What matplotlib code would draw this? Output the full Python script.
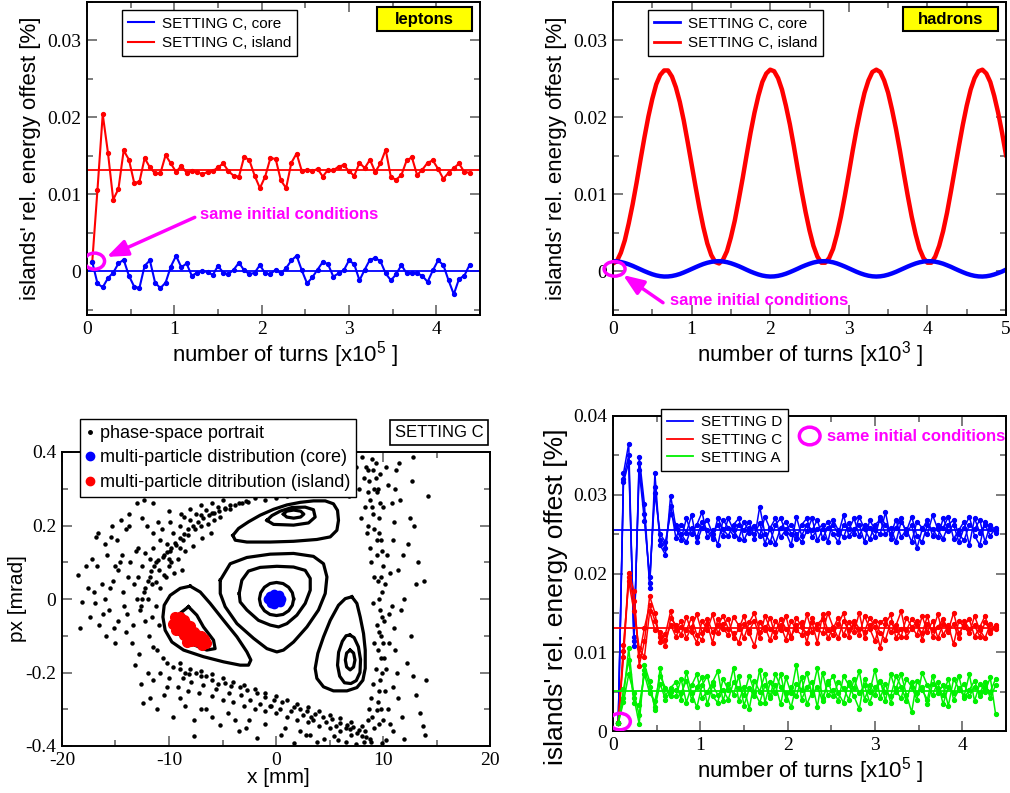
import numpy as np
import matplotlib.pyplot as plt
from matplotlib.ticker import MultipleLocator, FuncFormatter
from matplotlib.lines import Line2D
from matplotlib.patches import Rectangle, Ellipse

plt.rcParams['font.family'] = 'Liberation Sans'
plt.rcParams['mathtext.fontset'] = 'custom'
plt.rcParams['mathtext.rm'] = 'Liberation Sans'

BLUE = '#0000ff'
RED = '#ff0000'
GREEN = '#00f000'
MAGENTA = '#ff00ff'

# ---------------- leptons (top left), turns in units of 1e5, one sample every 6000 turns
lep_island = [0.0012, 0.0106, 0.0204, 0.0154, 0.0093, 0.0107, 0.0157, 0.0145, 0.0115, 0.0116,
              0.0147, 0.0135, 0.0127, 0.0127, 0.0151, 0.0140, 0.0129, 0.0137, 0.0128, 0.0130,
              0.0129, 0.0126, 0.0129, 0.0130, 0.0135, 0.0140, 0.0130, 0.0124, 0.0123, 0.0149,
              0.0144, 0.0124, 0.0108, 0.0123, 0.0147, 0.0146, 0.0118, 0.0108, 0.0141, 0.0153,
              0.0130, 0.0132, 0.0130, 0.0133, 0.0123, 0.0132, 0.0131, 0.0136, 0.0138, 0.0130,
              0.0124, 0.0141, 0.0134, 0.0145, 0.0129, 0.0140, 0.0158, 0.0122, 0.0119, 0.0125,
              0.0144, 0.0148, 0.0125, 0.0132, 0.0141, 0.0144, 0.0133, 0.0120, 0.0128, 0.0134,
              0.0140, 0.0129, 0.0128]
lep_core = [0.0012, -0.0016, -0.0021, -0.0009, -0.0002, 0.0010, 0.0015, -0.0006, -0.0020, -0.0022,
            0.0007, 0.0014, -0.0015, -0.0022, -0.0015, 0.0006, 0.0020, 0.0005, 0.0010, -0.0006,
            -0.0002, 0.0000, -0.0001, -0.0005, 0.0007, -0.0002, -0.0004, 0.0002, 0.0011, 0.0001,
            -0.0004, -0.0002, 0.0008, -0.0003, -0.0004, 0.0002, -0.0003, 0.0004, 0.0014, 0.0020,
            0.0001, -0.0016, -0.0008, 0.0002, 0.0012, 0.0009, -0.0007, -0.0003, 0.0001, 0.0014,
            0.0009, -0.0012, 0.0002, 0.0015, 0.0017, 0.0013, -0.0003, -0.0012, -0.0004, 0.0008,
            -0.0003, -0.0002, -0.0003, -0.0006, -0.0014, 0.0001, 0.0014, 0.0008, -0.0012, -0.0030,
            -0.0010, -0.0006, 0.0008]
lep_island_mean = 0.0131
lep_core_mean = 0.0

# ---------------- hadrons (top right), turns in units of 1e3, one sample every 50 turns
had_island = [0.0010, 0.0013, 0.0024, 0.0040, 0.0062, 0.0087, 0.0115, 0.0145, 0.0174, 0.0201,
              0.0224, 0.0243, 0.0255, 0.0261, 0.0261, 0.0253, 0.0239, 0.0220, 0.0196, 0.0168,
              0.0139, 0.0110, 0.0082, 0.0057, 0.0036, 0.0021, 0.0012, 0.0010, 0.0015, 0.0026,
              0.0044, 0.0066, 0.0093, 0.0121, 0.0151, 0.0180, 0.0206, 0.0228, 0.0246, 0.0257,
              0.0262, 0.0260, 0.0251, 0.0236, 0.0215, 0.0191, 0.0163, 0.0133, 0.0104, 0.0077,
              0.0053, 0.0033, 0.0019, 0.0011, 0.0011, 0.0017, 0.0029, 0.0048, 0.0071, 0.0098,
              0.0127, 0.0157, 0.0185, 0.0210, 0.0232, 0.0248, 0.0259, 0.0262, 0.0259, 0.0248,
              0.0232, 0.0210, 0.0185, 0.0157, 0.0127, 0.0098, 0.0071, 0.0048, 0.0029, 0.0017,
              0.0011, 0.0011, 0.0019, 0.0033, 0.0052, 0.0076, 0.0104, 0.0133, 0.0162, 0.0190,
              0.0215, 0.0236, 0.0251, 0.0260, 0.0262, 0.0257, 0.0246, 0.0228, 0.0206, 0.0180,
              0.0151]
had_core = [0.00130, 0.00127, 0.00119, 0.00106, 0.00089, 0.00069, 0.00046, 0.00023, 0.00000, -0.00021,
            -0.00040, -0.00055, -0.00065, -0.00070, -0.00069, -0.00063, -0.00052, -0.00037, -0.00017, 0.00005,
            0.00028, 0.00051, 0.00073, 0.00093, 0.00109, 0.00121, 0.00128, 0.00130, 0.00126, 0.00117,
            0.00103, 0.00085, 0.00065, 0.00042, 0.00018, -0.00005, -0.00025, -0.00043, -0.00057, -0.00066,
            -0.00070, -0.00068, -0.00061, -0.00049, -0.00033, -0.00013, 0.00009, 0.00032, 0.00056, 0.00077,
            0.00096, 0.00112, 0.00123, 0.00129, 0.00130, 0.00125, 0.00115, 0.00100, 0.00081, 0.00060,
            0.00037, 0.00014, -0.00009, -0.00029, -0.00046, -0.00059, -0.00067, -0.00070, -0.00067, -0.00059,
            -0.00046, -0.00029, -0.00009, 0.00014, 0.00037, 0.00060, 0.00081, 0.00100, 0.00115, 0.00125,
            0.00130, 0.00129, 0.00123, 0.00112, 0.00097, 0.00077, 0.00056, 0.00032, 0.00009, -0.00013,
            -0.00033, -0.00049, -0.00061, -0.00068, -0.00070, -0.00066, -0.00057, -0.00043, -0.00025, -0.00005,
            0.00020]

# ---------------- settings comparison (bottom right), values in units of 1e-4 %
set_D = [
    [10, 327, 365, 108, 348, 288, 182, 327, 236, 224, 299,
     258, 243, 270, 250, 262, 278, 246, 255, 236, 268, 258, 248, 262, 255, 266, 244, 285, 250, 240, 262,
     270, 252, 236, 272, 248, 262, 255, 268, 245, 258, 262, 250, 274, 248, 256, 262, 240, 268, 255, 250,
     278, 244, 258, 270, 250, 262, 232, 256, 268, 248, 262, 258, 272, 244, 255, 266, 236, 270, 252, 262,
     248, 258],
    [10, 320, 350, 114, 340, 275, 188, 310, 242, 233, 286,
     245, 262, 252, 274, 240, 258, 268, 250, 262, 248, 270, 255, 244, 266, 252, 260, 248, 272, 256, 238,
     258, 266, 250, 244, 262, 270, 246, 256, 262, 240, 268, 255, 246, 264, 250, 272, 256, 244, 262, 268,
     250, 258, 240, 266, 254, 272, 248, 240, 262, 256, 246, 270, 254, 262, 240, 258, 272, 248, 236, 266,
     256, 252],
    [10, 316, 341, 120, 331, 267, 195, 302, 250, 240, 276,
     262, 250, 240, 258, 246, 266, 255, 244, 270, 256, 248, 262, 270, 242, 258, 250, 264, 238, 258, 270,
     246, 256, 262, 250, 240, 254, 270, 242, 256, 266, 250, 240, 262, 256, 270, 248, 262, 258, 246, 272,
     262, 250, 268, 246, 256, 240, 266, 258, 250, 274, 256, 244, 262, 268, 250, 242, 262, 256, 268, 240,
     262, 255],
]
set_C = [
    [10, 101, 201, 178, 83, 114, 171, 150, 113, 123, 152,
     128, 140, 118, 132, 148, 125, 136, 112, 142, 130, 122, 145, 134, 118, 138, 150, 126, 132, 115, 140,
     128, 146, 120, 134, 138, 112, 144, 130, 124, 150, 132, 118, 140, 128, 136, 122, 146, 130, 114, 138,
     142, 126, 134, 152, 120, 130, 140, 116, 136, 128, 148, 122, 134, 110, 140, 132, 124, 146, 128, 118,
     136, 130],
    [10, 94, 195, 165, 95, 131, 160, 140, 120, 108, 143,
     135, 122, 145, 126, 112, 140, 128, 148, 124, 136, 142, 118, 130, 146, 124, 108, 138, 128, 144, 120,
     134, 116, 140, 128, 122, 148, 126, 136, 142, 118, 130, 144, 122, 138, 126, 150, 118, 134, 140, 124,
     116, 138, 128, 120, 144, 132, 122, 146, 126, 140, 118, 136, 128, 150, 124, 134, 142, 120, 132, 146,
     124, 132],
    [10, 109, 190, 152, 105, 94, 152, 128, 126, 115, 135,
     120, 132, 128, 144, 122, 116, 142, 126, 134, 146, 130, 124, 112, 136, 128, 140, 118, 146, 130, 126,
     142, 130, 118, 144, 132, 124, 138, 112, 148, 128, 122, 136, 150, 120, 140, 130, 126, 144, 132, 106,
     136, 148, 118, 130, 128, 142, 134, 124, 146, 120, 132, 142, 126, 136, 118, 140, 130, 134, 120, 138,
     128, 134],
]
set_A = [
    [10, 42, 105, 42, 9, 84, 63, 27, 80, 45, 55,
     62, 40, 75, 48, 30, 58, 70, 44, 36, 66, 52, 80, 38, 56, 28, 64, 50, 72, 42, 58,
     34, 68, 48, 84, 40, 56, 62, 30, 74, 46, 52, 38, 70, 58, 44, 28, 66, 50, 78, 42,
     60, 36, 54, 72, 46, 24, 64, 52, 40, 70, 48, 58, 32, 66, 54, 44, 72, 38, 60, 50,
     68, 22],
    [10, 53, 90, 36, 33, 72, 48, 38, 70, 55, 44,
     44, 66, 36, 58, 72, 42, 50, 62, 76, 38, 60, 46, 70, 32, 54, 44, 78, 36, 62, 48,
     72, 40, 56, 44, 68, 34, 50, 80, 42, 60, 70, 48, 36, 62, 54, 76, 40, 58, 46, 64,
     38, 72, 50, 42, 66, 56, 40, 74, 58, 46, 62, 34, 56, 48, 70, 42, 52, 64, 44, 56,
     50, 66],
    [10, 37, 72, 48, 20, 78, 56, 30, 60, 40, 50,
     52, 48, 64, 40, 56, 68, 34, 58, 46, 52, 40, 62, 54, 46, 70, 50, 36, 58, 44, 72,
     56, 48, 30, 60, 52, 74, 46, 56, 38, 64, 44, 62, 54, 40, 66, 48, 58, 36, 56, 62,
     50, 44, 70, 56, 38, 62, 48, 56, 34, 60, 54, 46, 66, 40, 52, 60, 44, 56, 48, 62,
     42, 58],
]
set_means = {'D': 0.0255, 'C': 0.0131, 'A': 0.0051}

# ---------------- phase space (bottom left), x [mm], px [mrad]
core_ring1_x = [1.65, 1.53, 1.18, 0.66, 0.05, -0.56, -1.08, -1.43, -1.55, -1.43, -1.08, -0.56, 0.05, 0.66, 1.18, 1.53]
core_ring1_y = [0.0, 0.017, 0.032, 0.042, 0.045, 0.042, 0.032, 0.017, 0.0, -0.017, -0.032, -0.042, -0.045, -0.042, -0.032, -0.017]
core_ring2_x = [-3.44, -3.19, -2.57, -1.48, 0.08, 1.64, 2.73, 3.2, 3.2, 2.73, 1.95, 1.02, 0.24, -0.54, -1.64, -2.72, -3.35]
core_ring2_y = [0.015, 0.051, 0.076, 0.086, 0.089, 0.087, 0.078, 0.056, 0.024, -0.012, -0.044, -0.067, -0.076, -0.071, -0.058, -0.03, -0.008]
core_ring3_x = [-5.21, -4.28, -2.72, -0.54, 1.64, 3.5, 4.44, 4.76, 4.6, 3.97, 2.89, 1.64, 0.7, 0.08, -0.85, -2.1, -3.65, -4.75, -5.21]
core_ring3_y = [0.051, 0.096, 0.113, 0.122, 0.124, 0.116, 0.096, 0.06, 0.015, -0.03, -0.076, -0.117, -0.139, -0.144, -0.135, -0.107, -0.067, -0.021, 0.015]
top_out_x = [-4.03, -3.81, -2.72, -0.54, 1.64, 3.82, 5.07, 5.69, 5.84, 5.75, 5.37, 4.6, 3.5, 2.26, 1.02, -0.23, -1.48, -2.57, -3.5]
top_out_y = [0.173, 0.16, 0.155, 0.155, 0.157, 0.162, 0.169, 0.187, 0.214, 0.241, 0.259, 0.267, 0.267, 0.263, 0.256, 0.244, 0.228, 0.21, 0.192]
top_mid_x = [-0.85, -0.23, 1.64, 3.04, 3.66, 3.5, 2.73, 1.49, 0.39, -0.38]
top_mid_y = [0.214, 0.203, 0.201, 0.207, 0.223, 0.243, 0.25, 0.249, 0.239, 0.227]
top_in_x = [0.7, 1.0, 1.65, 2.3, 2.6, 2.3, 1.65, 1.0]
top_in_y = [0.231, 0.239, 0.242, 0.239, 0.231, 0.223, 0.220, 0.223]
left_out_x = [-8.02, -8.95, -9.89, -10.45, -10.57, -10.36, -9.73, -8.64, -6.78, -4.9, -3.35, -2.57, -2.35, -2.72, -3.65, -4.9, -6.15, -7.08]
left_out_y = [0.035, 0.029, 0.01, -0.017, -0.049, -0.085, -0.117, -0.139, -0.157, -0.171, -0.18, -0.18, -0.166, -0.144, -0.103, -0.058, -0.012, 0.019]
left_in_x = [-8.18, -9.58, -9.42, -8.33, -6.47, -5.69, -5.84, -6.78, -7.4]
left_in_y = [-0.021, -0.053, -0.085, -0.117, -0.139, -0.135, -0.112, -0.076, -0.044]
right_out_x = [7.09, 6.47, 5.84, 5.07, 4.44, 3.91, 3.66, 3.82, 4.44, 5.37, 6.63, 7.56, 8.12, 8.34, 8.34, 8.18, 7.87, 7.56]
right_out_y = [0.006, 0.001, -0.017, -0.058, -0.103, -0.148, -0.189, -0.216, -0.239, -0.25, -0.25, -0.241, -0.221, -0.189, -0.139, -0.094, -0.049, -0.012]
right_mid_x = [6.9, 7.3, 7.7, 7.9, 7.85, 7.5, 7.0, 6.4, 5.95, 5.75, 5.85, 6.2, 6.55]
right_mid_y = [-0.098, -0.105, -0.13, -0.165, -0.2, -0.222, -0.23, -0.228, -0.21, -0.18, -0.145, -0.115, -0.1]
right_in_x = [6.93, 7.25, 7.38, 7.25, 6.93, 6.6, 6.48, 6.6]
right_in_y = [-0.139, -0.147, -0.166, -0.185, -0.193, -0.185, -0.166, -0.147]

chaos_x = [-13.0, -12.3, -11.5, -14.5, -15.3, -15.4, -16.8, -14.0, -12.9, -12.2, -11.5, -10.8, -10.2, -9.6,
           -9.0, -8.6, -8.0, -7.5, -7.0, -6.5, -6.0, -5.4, -4.8, -4.3, -3.8, -3.2, -2.6, -11.8, -11.2, -10.5,
           -9.9, -9.3, -8.7, -8.2, -7.6, -7.0, -6.4, -5.8, -5.2, -12.5, -12.9, -13.3, -13.0, -12.6, -12.2,
           -11.8, -13.6, -14.4, -15.0, -10.0, -9.2, -8.5, -7.8, -6.9, -6.1,
           -18.5, -18.1, -18.3, -17.0, -16.9, -16.3, -16.0, -15.6, -15.2, -14.8, -14.3, -13.9, -16.5, -15.9,
           -14.8, -17.2, -15.0, -14.0, -13.5, -12.8,
           -12.2, -11.9, -11.5, -11.1, -10.6, -10.2, -9.6, -9.0, -8.5, -8.1, -7.5, -7.0, -6.5, -6.0, -5.4,
           -4.8, -4.2, -3.4, -2.7, -1.8, -1.0, -0.23, 0.6, 1.64, 2.2, 2.9, 3.6, 4.4, 5.2, 6.0, 6.6, 7.2, 7.8, 8.3,
           -10.8, -10.0, -9.2, -8.2, -7.2, -6.0, -5.0, -4.0, -3.0, -2.0, -1.0, 0.0, 1.0, 2.0, 3.0, 4.0, 5.0,
           6.0, 7.0, 8.0, 8.8,
           -12.4, -11.1, -9.6, -7.7, -5.2, -7.7, -1.8, 1.64, 3.8, 5.4, -3.5, 0.5, 2.8, 6.5, -10.5, -6.5, -2.5, 4.5,
           -11.2, -10.9, -10.8, -10.3, -9.5, -8.8,
           8.0, 8.4, 9.1, 8.7, 9.4, 9.0, 9.6, 9.2, 9.8, 9.4, 10.0, 9.5, 9.9, 9.7, 10.1, 9.6, 10.0, 9.8, 10.3,
           9.7, 10.2, 9.5, 9.4, 10.0, 9.2, 10.3, 9.9, 8.9, 8.8, 9.3, 8.9, 9.1, 9.3, 8.9, 10.5, 10.4, 10.6, 10.5,
           11.0, 12.3, 12.7, 14.2, 12.8, 13.1, 11.7, 10.6, 12.2, 12.8, 13.1, 13.5, 13.7, 11.2, 11.6, 11.4,
           12.0, 11.3, 11.8, 10.9, 12.5, 11.9, 11.0, 12.6, 13.3, 11.5,
           5.4, 6.3, 7.0, 7.5, 6.8, 7.8, 4.5, 3.5, 2.3, 1.0, 0.0, -1.0,
           -12.7, -12.5, -12.3, -12.0, -11.7, -11.4, -11.0, -10.6, -10.2, -9.8, -9.4, -9.0, -8.6, -8.2, -7.8,
           -7.3, -6.8, -6.3, -5.8, -5.3, -4.8, -4.3, -3.5, -2.8, -2.0, -12.0, -11.6, -10.9, -10.0, -9.0,
           9.3, 9.5, 9.7, 9.6, 9.9, 9.8, 9.6, 9.9, 9.8, 9.5, 9.9, 9.6, 9.8, 9.6, 9.1, 9.2, 9.4, 9.1, 9.7,
           10.0, 10.2, 10.1,
           -9.0, -8.0, -7.0, -6.0, -5.0, -4.0, -3.0, -2.0, -1.0, 0.0, 1.0, 2.0, 3.0, 4.0, 5.0, 6.0, 7.0, 8.0,
           8.6, -0.5, 3.5, 6.5,
           8.2, 8.6, 8.3, 7.9, 8.5, 8.8, 8.6,
           -17.6, -17.4, -16.7, -16.2, -15.8, -15.5, -15.1, -14.6, -14.2, -13.8, -13.4, -13.1, -16.0, -17.8,
           -16.6, -14.9, -13.7, -12.1, -11.0, -10.0, -11.5,
           -12.0, -11.5, -10.2, -9.0, -8.5, -7.0, -6.0, -4.5, -3.8, -2.8, -1.0, 0.8, 2.2, 3.2, 5.8, 7.5, 8.2,
           -12.6, -13.2, -11.8,
           -8.7, -7.9, -6.8, -5.6, -4.4, -3.3, -2.4, -1.5, -0.6, 0.4, 1.4, 2.5, 3.3, 4.7, 5.6, 6.9, 7.6, 8.4,
           9.0, 8.6, 10.8, 10.9, 10.7, 10.8, 11.1, 10.9, 10.7, 9.2, 9.0, 8.7, 9.4, 9.2, 10.3, 11.4, 12.0, 13.9,
           12.9, 13.8, 14.0, 11.1,
           -10.7, -9.9, -8.9, -8.0, -7.0, -6.0, -13.7, -12.5, -5.0, -9.8, -10.5, -11.2, -11.6]
chaos_y = [0.26, 0.27, 0.262, 0.215, 0.2, 0.17, 0.17, 0.19, 0.14, 0.125, 0.14, 0.16, 0.15, 0.18,
           0.2, 0.222, 0.215, 0.23, 0.228, 0.241, 0.235, 0.25, 0.245, 0.246, 0.255, 0.26, 0.265, 0.11, 0.1, 0.12,
           0.13, 0.148, 0.16, 0.175, 0.19, 0.2, 0.205, 0.215, 0.222, 0.09, 0.06, 0.04, 0.0, -0.02, 0.03,
           0.06, 0.1, 0.12, 0.09, 0.09, 0.11, 0.13, 0.145, 0.165, 0.18,
           0.065, -0.008, -0.08, 0.02, -0.01, 0.04, 0.0, -0.03, 0.05, -0.06, 0.02, -0.04, -0.07, -0.1,
           0.08, 0.11, -0.12, -0.09, -0.12, -0.15,
           -0.06, -0.1, -0.13, -0.139, -0.16, -0.175, -0.185, -0.19, -0.2, -0.203, -0.2, -0.21, -0.21, -0.22, -0.23,
           -0.228, -0.236, -0.24, -0.247, -0.257, -0.266, -0.275, -0.28, -0.293, -0.298, -0.306, -0.312, -0.32,
           -0.327, -0.338, -0.343, -0.348, -0.357, -0.36,
           -0.2, -0.215, -0.24, -0.25, -0.255, -0.265, -0.275, -0.28, -0.29, -0.3, -0.306, -0.31, -0.322, -0.33,
           -0.335, -0.345, -0.35, -0.36, -0.37, -0.372, -0.38,
           -0.283, -0.3, -0.32, -0.33, -0.342, -0.374, -0.379, -0.393, -0.388, -0.374, -0.36, -0.37, -0.37, -0.39,
           -0.26, -0.3, -0.33, -0.38,
           -0.02, -0.07, 0.03, 0.06, 0.07, 0.08,
           0.386, 0.36, 0.35, 0.32, 0.29, 0.25, 0.22, 0.19, 0.16, 0.12, 0.09, 0.05, 0.02, -0.03, -0.06, -0.09,
           -0.12, -0.16, -0.19, -0.22, -0.25, -0.28, -0.302, -0.33, -0.35, -0.384, -0.393, -0.39, 0.27, 0.33,
           0.1, -0.01, -0.19, -0.27, 0.31, 0.12, -0.04, -0.3,
           0.21, 0.15, 0.32, 0.28, 0.386, 0.04, -0.03, -0.12, -0.175, -0.21, -0.26, -0.31, -0.345, 0.35, 0.27,
           0.08, 0.0, -0.2, -0.32, -0.36, 0.22, 0.12, -0.08, -0.1, 0.1, 0.37,
           0.33, 0.35, 0.31, 0.36, 0.28, 0.3, 0.3, 0.295, 0.285, 0.28, 0.275, 0.27,
           -0.03, 0.0, 0.02, 0.05, 0.075, 0.09, 0.105, 0.115, 0.128, 0.14, 0.152, 0.165, 0.178, 0.19, 0.2,
           0.21, 0.22, 0.228, 0.235, 0.24, 0.248, 0.256, 0.262, 0.268, 0.274, 0.0, 0.04, 0.08, 0.11, 0.14,
           0.37, 0.3, 0.26, 0.18, 0.13, 0.06, 0.0, -0.05, -0.1, -0.14, -0.2, -0.25, -0.3, -0.34, 0.23, 0.06,
           -0.07, -0.23, 0.34, 0.25, 0.04, -0.16,
           -0.175, -0.19, -0.195, -0.205, -0.215, -0.225, -0.235, -0.245, -0.255, -0.265, -0.275, -0.285,
           -0.295, -0.305, -0.315, -0.325, -0.335, -0.345, -0.33, -0.29, -0.33, -0.35,
           0.33, 0.29, 0.25, 0.22, 0.18, 0.14, 0.2,
           0.03, -0.05, 0.09, -0.04, 0.12, 0.03, -0.08, 0.1, -0.02, 0.06, -0.07, 0.13, 0.15, 0.09,
           0.18, 0.16, 0.2, 0.2, 0.21, 0.24, 0.18,
           -0.2, -0.22, -0.24, -0.27, -0.29, -0.3, -0.32, -0.31, -0.33, -0.35, -0.34, -0.35, -0.36, -0.37,
           -0.385, -0.395, -0.39, -0.23, -0.18, -0.27,
           -0.215, -0.225, -0.235, -0.245, -0.255, -0.262, -0.275, -0.285, -0.29, -0.3, -0.305, -0.315, -0.32,
           -0.335, -0.345, -0.355, -0.365, -0.375,
           0.38, 0.35, 0.26, 0.16, 0.07, -0.02, -0.14, -0.24, -0.34, -0.12, -0.32, -0.3, 0.16, 0.3, 0.36, -0.27,
           -0.38, -0.37, 0.2, 0.05, -0.22, 0.3,
           0.19, 0.21, 0.23, 0.245, 0.255, 0.262, 0.23, 0.22, 0.27, 0.1, 0.065, 0.045, -0.05]

core_beam_x = [-0.15, -0.55, 0.3, -0.5, 0.35, -0.15, -0.15, -0.75, 0.5, -0.4, 0.2]
core_beam_y = [0.0, 0.009, 0.01, -0.01, -0.009, 0.013, -0.013, 0.0, 0.0, 0.0, 0.0]
island_beam_x = [-9.4, -9.0, -8.6, -9.6, -9.2, -8.8, -8.4, -8.0, -9.3, -8.9, -8.5, -8.1, -7.7, -8.6,
                 -8.2, -7.8, -7.4, -7.0, -7.9, -7.5, -7.1, -6.7, -6.5, -8.3, -6.9]
island_beam_y = [-0.048, -0.05, -0.056, -0.068, -0.066, -0.064, -0.068, -0.074, -0.084, -0.082, -0.08,
                 -0.084, -0.09, -0.098, -0.1, -0.1, -0.098, -0.1, -0.114, -0.114, -0.116, -0.108, -0.12,
                 -0.118, -0.126]

SETTING_LABELS = ['SETTING D', 'SETTING C', 'SETTING A']


def fmt(v, pos):
    return '%g' % (round(v, 6) + 0.0)


def style(ax, xmaj, ymaj):
    ax.xaxis.set_major_locator(MultipleLocator(xmaj))
    ax.xaxis.set_minor_locator(MultipleLocator(xmaj / 2))
    ax.yaxis.set_major_locator(MultipleLocator(ymaj))
    ax.yaxis.set_minor_locator(MultipleLocator(ymaj / 2))
    ax.xaxis.set_major_formatter(FuncFormatter(fmt))
    ax.yaxis.set_major_formatter(FuncFormatter(fmt))
    ax.tick_params(which='both', direction='in', top=True, right=True, color='0.35', width=1.1,
                   labelsize=14, labelfontfamily='Liberation Serif', pad=4)
    ax.tick_params(which='major', length=7)
    ax.tick_params(which='minor', length=4)
    for t in ax.get_xticklabels() + ax.get_yticklabels():
        t.set_fontfamily('Liberation Serif')
    for s in ax.spines.values():
        s.set_linewidth(1.4)


def labels(ax, xl, yl, xpos, ypos, size=16, ysize=None):
    ax.set_xlabel(xl, fontsize=size)
    ax.set_ylabel(yl, fontsize=ysize or size)
    ax.xaxis.label.set_verticalalignment('center')
    ax.yaxis.label.set_verticalalignment('center')
    ax.xaxis.set_label_coords(*xpos)
    ax.yaxis.set_label_coords(*ypos)


def tag_box(ax, text):
    ax.add_patch(Rectangle((0.738, 0.906), 0.242, 0.077, transform=ax.transAxes,
                           facecolor='#ffff00', edgecolor='black', lw=1.5, zorder=5))
    ax.text(0.859, 0.944, text, transform=ax.transAxes, ha='center', va='center',
            fontsize=12, fontweight='bold', zorder=6)


def line_legend(ax, names, colors, lw, anchor, spacing):
    h = [Line2D([], [], color=c, lw=lw) for c in colors]
    leg = ax.legend(h, names, loc='upper left', bbox_to_anchor=anchor, borderaxespad=0,
                    fancybox=False, edgecolor='black', framealpha=1, fontsize=11,
                    handlelength=1.7, handletextpad=0.5, labelspacing=spacing, borderpad=0.4)
    leg.get_frame().set_linewidth(1.0)


fig = plt.figure(figsize=(10.1, 7.93), dpi=100)
W, H = 1010, 793


def add_axes(l, r, t, b):
    return fig.add_axes([l / W, 1 - b / H, (r - l) / W, (b - t) / H])


ylab = "islands' rel. energy offest [%]"
arrow = dict(arrowstyle='-|>,head_width=0.35,head_length=0.9', color=MAGENTA, lw=2.5,
             mutation_scale=14, shrinkA=0, shrinkB=0)

# ---- leptons
ax1 = add_axes(87, 480, 2, 315)
lep_turns = np.arange(1, len(lep_island) + 1) * 0.06
ax1.axhline(lep_island_mean, color=RED, lw=1.3)
ax1.axhline(lep_core_mean, color=BLUE, lw=1.3)
ax1.plot(lep_turns, lep_island, '-o', color=RED, lw=1.5, ms=2.8)
ax1.plot(lep_turns, lep_core, '-o', color=BLUE, lw=1.5, ms=2.8)
ax1.set_xlim(0, 4.5)
ax1.set_ylim(-0.0057, 0.035)
style(ax1, 1, 0.01)
labels(ax1, 'number of turns [x10$^5$ ]', ylab, (0.504, -0.125), (-0.145, 0.5))
line_legend(ax1, ['SETTING C, core', 'SETTING C, island'], [BLUE, RED], 1.5, (0.089, 0.973), 0.35)
tag_box(ax1, 'leptons')
ax1.add_patch(Ellipse((0.086, 0.0013), 0.23, 0.0021, fill=False, edgecolor=MAGENTA, lw=2.5, zorder=6))
ax1.annotate('', xy=(0.225, 0.00185), xytext=(1.234, 0.0070), arrowprops=arrow)
ax1.text(1.29, 0.0074, 'same initial conditions', color=MAGENTA, fontsize=12, fontweight='bold',
         ha='left', va='center')

# ---- hadrons
ax2 = add_axes(613, 1006, 2, 315)
had_turns = np.arange(len(had_island)) * 0.05
ax2.plot(had_turns, had_island, '-', color=RED, lw=3.2)
ax2.plot(had_turns, had_core, '-', color=BLUE, lw=3.2)
ax2.set_xlim(0, 5)
ax2.set_ylim(-0.0057, 0.035)
style(ax2, 1, 0.01)
labels(ax2, 'number of turns [x10$^3$ ]', ylab, (0.501, -0.125), (-0.145, 0.5))
line_legend(ax2, ['SETTING C, core', 'SETTING C, island'], [BLUE, RED], 2.0, (0.089, 0.973), 0.35)
tag_box(ax2, 'hadrons')
ax2.add_patch(Ellipse((0.02, 0.0003), 0.267, 0.0019, fill=False, edgecolor=MAGENTA, lw=2.5, zorder=6,
                      clip_on=False))
ax2.annotate('', xy=(0.127, -0.0005), xytext=(0.636, -0.0041), arrowprops=arrow)
ax2.text(0.725, -0.0038, 'same initial conditions', color=MAGENTA, fontsize=12, fontweight='bold',
         ha='left', va='center')

# ---- phase space
ax3 = add_axes(62, 490, 452, 746)
ax3.plot(chaos_x, chaos_y, 'o', color='black', ms=2.2, ls='none')
rings = [(core_ring1_x, core_ring1_y), (core_ring2_x, core_ring2_y), (core_ring3_x, core_ring3_y),
         (top_out_x, top_out_y), (top_mid_x, top_mid_y), (top_in_x, top_in_y),
         (left_out_x, left_out_y), (left_in_x, left_in_y),
         (right_out_x, right_out_y), (right_mid_x, right_mid_y), (right_in_x, right_in_y)]
for rx, ry in rings:
    ax3.plot(list(rx) + [rx[0]], list(ry) + [ry[0]], '-', color='black', lw=2.3,
             solid_joinstyle='round')
ax3.plot(core_beam_x, core_beam_y, 'o', color=BLUE, ms=6, ls='none')
ax3.plot(island_beam_x, island_beam_y, 'o', color=RED, ms=7, ls='none')
ax3.set_xlim(-20, 20)
ax3.set_ylim(-0.4, 0.4)
style(ax3, 10, 0.2)
labels(ax3, 'x [mm]', 'px [mrad]', (0.505, -0.108), (-0.103, 0.5), size=15)
h = [Line2D([], [], ls='none', marker='o', color='black', ms=2.5),
     Line2D([], [], ls='none', marker='o', color=BLUE, ms=6),
     Line2D([], [], ls='none', marker='o', color=RED, ms=6)]
leg = ax3.legend(h, ['phase-space portrait', 'multi-particle distribution (core)',
                     'multi-particle ditribution (island)'],
                 loc='upper left', bbox_to_anchor=(0.042, 1.112), borderaxespad=0, fancybox=False,
                 edgecolor='black', framealpha=1, fontsize=13, handlelength=0.5, handletextpad=0.3,
                 labelspacing=0.42, borderpad=0.32)
leg.get_frame().set_linewidth(1.0)
ax3.text(0.881, 1.065, 'SETTING C', transform=ax3.transAxes, ha='center', va='center', fontsize=12,
         bbox=dict(boxstyle='square,pad=0.3', facecolor='white', edgecolor='black', lw=1.2))

# ---- settings comparison
ax4 = add_axes(613, 1006, 416, 731)
colors = [BLUE, RED, GREEN]
groups = [set_D, set_C, set_A]
for c, grp, key in zip(colors, groups, ['D', 'C', 'A']):
    for run in grp:
        turns = np.arange(1, len(run) + 1) * 0.06
        ax4.plot(turns, np.array(run) * 1e-4, '-o', color=c, lw=1.1, ms=2.8)
    ax4.hlines(set_means[key], 0, 4.4, color=c, lw=1.3)
ax4.set_xlim(0, 4.5)
ax4.set_ylim(0, 0.04)
style(ax4, 1, 0.01)
labels(ax4, 'number of turns [x10$^5$ ]', ylab, (0.501, -0.124), (-0.145, 0.425), ysize=19)
line_legend(ax4, SETTING_LABELS, colors, 1.3, (0.122, 1.022), 0.25)
ax4.add_patch(Ellipse((0.08, 0.0012), 0.237, 0.0021, fill=False, edgecolor=MAGENTA, lw=2.5, zorder=6))
ax4.add_patch(Ellipse((0.5005, 0.9365), 0.0527, 0.056, transform=ax4.transAxes, fill=False,
                      edgecolor=MAGENTA, lw=2.5, zorder=6))
ax4.text(0.544, 0.9365, 'same initial conditions', transform=ax4.transAxes, color=MAGENTA, fontsize=12,
         fontweight='bold', ha='left', va='center')

fig.savefig('out.png', dpi=100)
